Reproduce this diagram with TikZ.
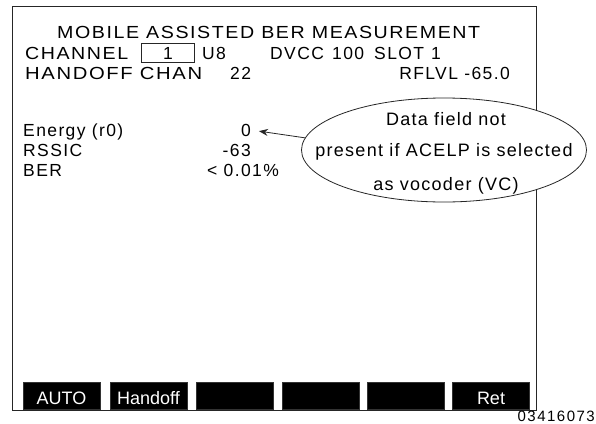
\documentclass[tikz,border=0pt]{standalone}
\usepackage{fontspec}
\usepackage{graphicx}
\setmainfont{Liberation Sans}
\newfontfamily\lcd[LetterSpace=8]{Liberation Sans}
\newfontfamily\lcdN[LetterSpace=7]{Liberation Sans}
\newfontfamily\lcdF[LetterSpace=10]{Liberation Sans}
\newcommand\fitw[2]{\resizebox{#1}{\height}{#2}}
\usetikzlibrary{shapes.geometric,arrows.meta}
\begin{document}
\begin{tikzpicture}[x=1pt,y=-1pt,
  txt/.style={font=\lcd\fontsize{17.5}{18}\selectfont, inner sep=0, anchor=base west},
  txte/.style={txt, anchor=base east},
  note/.style={font=\lcdN\fontsize{18}{18}\selectfont, inner sep=0, anchor=base},
  frameline/.style={draw=black!85, line width=0.8pt},
  softkey/.style={fill=black, draw=black!80, minimum width=77pt, minimum height=27pt, inner sep=0,
    text=white, font=\fontsize{18}{18}\selectfont, text height=17pt, text depth=0pt},
  callout/.style={ellipse, draw=black!85, line width=0.8pt, fill=white, minimum width=285pt, minimum height=104pt, inner sep=0},
  pointer/.style={draw=black!85, line width=0.8pt, -{Stealth[length=9pt,width=7pt]}}
]
\useasboundingbox (0,0) rectangle (596,423);
% frame
\draw[frameline] (12,6) rectangle (536,410);
% header
\node[txt] (title) at (57,38) {\fitw{423pt}{MOBILE ASSISTED BER MEASUREMENT}};
\node[txt] (chan) at (25,59) {\fitw{103pt}{CHANNEL}};
\node[draw=black!85, line width=0.8pt, minimum width=53pt, minimum height=19pt, inner sep=0] (chbox) at (167.5,53) {};
\node[txt] (chnum) at (163,59) {1};
\node[txt] (u8) at (202,59) {U8};
\node[txt] (dvcc) at (270,59) {DVCC};
\node[txt] (dvccv) at (332,59) {100};
\node[txt] (slot) at (374,59) {SLOT};
\node[txt] (slotv) at (431,59) {1};
\node[txt] (hand) at (25,79) {\fitw{177pt}{HANDOFF CHAN}};
\node[txt] (handv) at (230,79) {22};
\node[txte] (rflvl) at (510,79) {RFLVL -65.0};
% measurements
\node[txt] (energy) at (23,136) {Energy (r0)};
\node[txte] (zero) at (251,136) {0};
\node[txt] (rssic) at (23,156) {RSSIC};
\node[txte] (rssicv) at (251,156) {-63};
\node[txt] (ber) at (23,176) {BER};
\node[txt] (berv) at (207,176) {< 0.01\%};
% callout
\node[callout] (ell) at (444,150) {};
\node[note] (n1) at (446,125) {Data field not};
\node[note] (n2) at (444,156) {present if ACELP is selected};
\node[note] (n3) at (446,190) {as vocoder (VC)};
\draw[pointer, shorten >=8pt] (ell.175) -- (zero.east);
% softkeys
\node[softkey] (k1) at (61.5,395.5) {AUTO};
\node[softkey] (k2) at (148.5,395.5) {Handoff};
\node[softkey] (k3) at (235,395.5) {};
\node[softkey] (k4) at (320.5,395.5) {};
\node[softkey] (k5) at (405.5,395.5) {};
\node[softkey] (k6) at (491,395.5) {Ret};
% figure number
\node[font=\lcdF\fontsize{15}{15}\selectfont, inner sep=0, anchor=base east] (fig) at (595,421) {03416073};
\end{tikzpicture}
\end{document}
